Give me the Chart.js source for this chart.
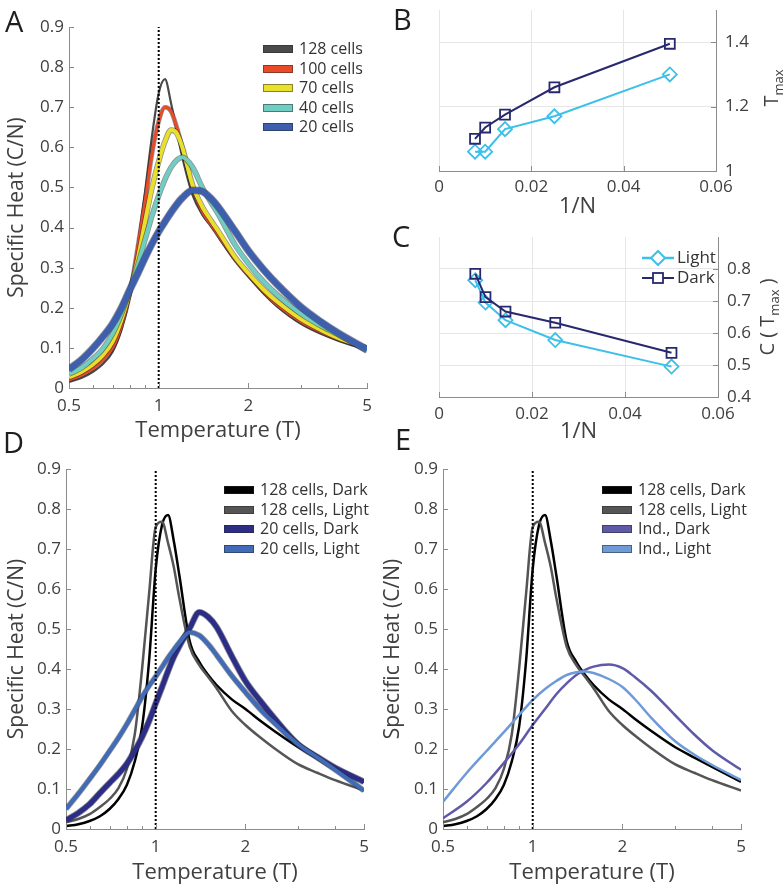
<!DOCTYPE html>
<html>
<head>
<meta charset="utf-8">
<title>Specific heat vs temperature</title>
<script src="https://cdn.jsdelivr.net/npm/chart.js@4.4.1/dist/chart.umd.min.js"></script>
<style>
  body { margin: 0; background: #fff; font-family: 'Open Sans', sans-serif; color: #404040; }
  #fig { position: relative; width: 784px; height: 888px; overflow: hidden; }
  .box { position: absolute; }
  .tag { position: absolute; font-size: 29px; line-height: 1; color: #1e1e1e; }
  .leg { position: absolute; font-size: 16px; line-height: 19.6px; color: #333; }
  .leg div { white-space: nowrap; }
  .leg span { display: inline-block; width: 30px; height: 8px; margin-right: 6px; vertical-align: 1px;
              border: 1px solid rgba(40,40,40,.5); box-sizing: border-box; }
  .ytitle { position: absolute; font-size: 20px; white-space: nowrap; color: #404040;
            transform: translate(-50%, -50%) rotate(-90deg); }
  .ytitle sub { font-size: 13px; }
  .sym { position: absolute; font-size: 17px; line-height: 20px; color: #333; }
  .sym div { white-space: nowrap; height: 20px; }
  .sym svg { vertical-align: -4px; margin-right: 2px; }
</style>
</head>
<body>
<div id="fig">
  <div class="box" style="left:0;top:0;width:380px;height:445px"><canvas id="chartA"></canvas></div>
  <div class="box" style="left:400px;top:0;width:384px;height:224px"><canvas id="chartB"></canvas></div>
  <div class="box" style="left:400px;top:222px;width:384px;height:227px"><canvas id="chartC"></canvas></div>
  <div class="box" style="left:0;top:440px;width:380px;height:447px"><canvas id="chartD"></canvas></div>
  <div class="box" style="left:374px;top:440px;width:410px;height:447px"><canvas id="chartE"></canvas></div>

  <div class="tag" style="left:5px;top:6px">A</div>
  <div class="tag" style="left:393px;top:4px">B</div>
  <div class="tag" style="left:392px;top:221px">C</div>
  <div class="tag" style="left:3px;top:427px">D</div>
  <div class="tag" style="left:395px;top:424px">E</div>

  <div class="ytitle" style="left:772px;top:88px">T<sub>max</sub></div>
  <div class="ytitle" style="left:768px;top:317px">C ( T<sub>max</sub> )</div>

  <div class="leg" id="legA" style="left:263px;top:39px"></div>
  <div class="leg" id="legD" style="left:224px;top:480px"></div>
  <div class="leg" id="legE" style="left:602px;top:480px"></div>

  <div class="sym" style="left:641px;top:247px">
    <div><svg width="34" height="18"><line x1="1" y1="9" x2="33" y2="9" stroke="#3cc0ea" stroke-width="2.5"/><path d="M17 2 L24 9 L17 16 L10 9 Z" fill="#fff" stroke="#3cc0ea" stroke-width="2"/></svg>Light</div>
    <div><svg width="34" height="18"><line x1="1" y1="9" x2="33" y2="9" stroke="#27296e" stroke-width="2"/><rect x="12" y="4" width="10" height="10" fill="#fff" stroke="#27296e" stroke-width="1.8"/></svg>Dark</div>
  </div>
</div>

<script>
// temperature grid used for the size curves (A) and the 128/20-cell curves (D, E)
const temps = [0.5, 0.55, 0.6, 0.65, 0.7, 0.75, 0.8, 0.85, 0.9, 0.95, 1.0, 1.05, 1.1, 1.15, 1.2, 1.3, 1.4, 1.5, 1.6, 1.8, 2.0, 2.25, 2.5, 3, 3.5, 4, 5];

// A - specific heat for different numbers of cells
const heat128 = [0.015, 0.025, 0.04, 0.06, 0.09, 0.145, 0.228, 0.355, 0.49, 0.63, 0.735, 0.77, 0.71, 0.64, 0.575, 0.48, 0.432, 0.403, 0.372, 0.318, 0.278, 0.235, 0.203, 0.16, 0.135, 0.118, 0.095];
const heat100 = [0.02, 0.032, 0.048, 0.07, 0.10, 0.155, 0.235, 0.35, 0.465, 0.585, 0.665, 0.70, 0.69, 0.65, 0.60, 0.50, 0.44, 0.407, 0.377, 0.322, 0.281, 0.24, 0.207, 0.165, 0.14, 0.122, 0.10];
const heat70 = [0.027, 0.04, 0.058, 0.082, 0.115, 0.17, 0.24, 0.32, 0.415, 0.50, 0.565, 0.615, 0.643, 0.635, 0.60, 0.505, 0.452, 0.417, 0.386, 0.327, 0.286, 0.245, 0.215, 0.172, 0.145, 0.125, 0.10];
const heat40 = [0.035, 0.05, 0.072, 0.098, 0.135, 0.185, 0.245, 0.305, 0.37, 0.43, 0.48, 0.52, 0.55, 0.568, 0.575, 0.55, 0.50, 0.462, 0.428, 0.358, 0.31, 0.265, 0.232, 0.185, 0.155, 0.133, 0.092];
const heat20 = [0.047, 0.07, 0.098, 0.128, 0.16, 0.20, 0.245, 0.285, 0.325, 0.36, 0.39, 0.415, 0.438, 0.458, 0.474, 0.493, 0.49, 0.472, 0.447, 0.392, 0.342, 0.295, 0.258, 0.202, 0.165, 0.137, 0.096];

// D - dark vs light, 128 and 20 cells
const dark128 = [0.007, 0.012, 0.02, 0.032, 0.05, 0.075, 0.11, 0.168, 0.255, 0.42, 0.65, 0.76, 0.785, 0.72, 0.635, 0.47, 0.418, 0.385, 0.36, 0.324, 0.30, 0.27, 0.245, 0.205, 0.178, 0.155, 0.118];
const light128 = [0.017, 0.025, 0.037, 0.055, 0.075, 0.102, 0.15, 0.235, 0.40, 0.588, 0.755, 0.768, 0.715, 0.655, 0.578, 0.456, 0.41, 0.38, 0.352, 0.295, 0.26, 0.228, 0.202, 0.162, 0.14, 0.122, 0.096];
const dark20 = [0.022, 0.04, 0.062, 0.09, 0.115, 0.138, 0.163, 0.195, 0.23, 0.27, 0.314, 0.355, 0.395, 0.43, 0.457, 0.502, 0.542, 0.53, 0.505, 0.432, 0.37, 0.319, 0.277, 0.212, 0.179, 0.153, 0.118];
const light20 = [0.05, 0.088, 0.125, 0.16, 0.195, 0.228, 0.262, 0.297, 0.33, 0.358, 0.381, 0.405, 0.428, 0.448, 0.466, 0.492, 0.484, 0.462, 0.435, 0.383, 0.342, 0.298, 0.265, 0.212, 0.178, 0.148, 0.096];

// E - independent cells
const tempsInd = [0.5, 0.6, 0.7, 0.8, 0.9, 1.0, 1.1, 1.2, 1.3, 1.4, 1.5, 1.6, 1.8, 2.0, 2.2, 2.5, 3, 3.5, 4, 5];
const indDark = [0.027, 0.068, 0.115, 0.165, 0.212, 0.26, 0.30, 0.337, 0.364, 0.385, 0.398, 0.406, 0.411, 0.402, 0.38, 0.345, 0.285, 0.235, 0.197, 0.148];
const indLight = [0.068, 0.14, 0.195, 0.242, 0.285, 0.3225, 0.35, 0.37, 0.385, 0.392, 0.394, 0.39, 0.375, 0.355, 0.325, 0.278, 0.22, 0.185, 0.16, 0.1225];

// critical temperature marker
const tcX = [1, 1];
const tcY = [0, 0.9];

// B, C - peak position and peak height vs 1/N
const invN = [0.0078, 0.01, 0.0143, 0.025, 0.05];
const tmaxLight = [1.06, 1.06, 1.13, 1.17, 1.30];
const tmaxDark = [1.10, 1.135, 1.175, 1.26, 1.395];
const cmaxLight = [0.765, 0.695, 0.64, 0.578, 0.495];
const cmaxDark = [0.785, 0.712, 0.667, 0.632, 0.538];

// tick values
const tempTicks = [0.5, 0.6, 0.7, 0.8, 0.9, 1, 2, 3, 4, 5];
const tempLabels = [0.5, 1, 2, 5];
const invTicks = [0, 0.02, 0.04, 0.06];
const tmaxTicks = [1, 1.2, 1.4];
const cmaxTicks = [0.4, 0.5, 0.6, 0.7, 0.8];

const FONT = "'Open Sans', sans-serif";
const TXT = '#404040';
const AXIS = '#8c8c8c';
const EDGE = 'rgba(35,35,45,0.5)';
const LIGHT = '#3cc0ea';
const DARK = '#27296e';

const inwardTicks = {
  id: 'inwardTicks',
  afterDraw(chart) {
    const {ctx, chartArea: a, scales} = chart;
    const x = scales.x, y = scales.y;
    ctx.save();
    ctx.strokeStyle = AXIS;
    ctx.lineWidth = 1;
    ctx.beginPath();
    x.ticks.forEach(t => {
      const p = Math.round(x.getPixelForValue(t.value)) + 0.5;
      const len = t.label === '' ? 3 : 5;
      ctx.moveTo(p, a.bottom);
      ctx.lineTo(p, a.bottom - len);
    });
    y.ticks.forEach(t => {
      const p = Math.round(y.getPixelForValue(t.value)) + 0.5;
      if (y.position === 'right') { ctx.moveTo(a.right, p); ctx.lineTo(a.right - 5, p); }
      else { ctx.moveTo(a.left, p); ctx.lineTo(a.left + 5, p); }
    });
    ctx.stroke();
    ctx.restore();
  }
};

const pts = (xs, ys) => xs.map((x, i) => ({ x: x, y: ys[i] }));

function line(xs, ys, color, width, order) {
  return { data: pts(xs, ys), borderColor: color, borderWidth: width, order: order,
           pointRadius: 0, fill: false, cubicInterpolationMode: 'monotone' };
}

function band(xs, ys, color, width, order) {
  return [line(xs, ys, color, width, order), line(xs, ys, EDGE, width + 1.6, order + 0.5)];
}

function tcLine() {
  return { data: pts(tcX, tcY), borderColor: '#000', borderWidth: 2, borderDash: [2, 2],
           pointRadius: 0, order: 0 };
}

function legend(id, items) {
  document.getElementById(id).innerHTML = items
    .map(it => '<div><span style="background:' + it[1] + '"></span>' + it[0] + '</div>').join('');
}

function heatChart(id, lay, datasets) {
  return new Chart(document.getElementById(id), {
    type: 'line',
    data: { datasets: datasets },
    options: {
      responsive: true,
      maintainAspectRatio: false,
      animation: false,
      layout: { padding: lay.pad },
      plugins: { legend: { display: false }, tooltip: { enabled: false } },
      scales: {
        x: {
          type: 'logarithmic', min: 0.5, max: 5,
          afterBuildTicks: s => { s.ticks = tempTicks.map(v => ({ value: v })); },
          afterFit: s => { s.height = lay.xh; s.paddingLeft = 0; s.paddingRight = 0; },
          ticks: { autoSkip: false, maxRotation: 0, padding: 8, color: TXT, font: { family: FONT, size: 17 },
                   callback: v => tempLabels.includes(v) ? String(v) : '' },
          grid: { drawOnChartArea: false, drawTicks: false },
          border: { color: AXIS },
          title: { display: true, text: 'Temperature (T)', color: TXT, font: { family: FONT, size: 22 },
                   padding: { top: 4, bottom: 1 } }
        },
        y: {
          min: 0, max: 0.9,
          afterFit: s => { s.width = lay.yw; s.paddingTop = 0; s.paddingBottom = 0; },
          ticks: { stepSize: 0.1, padding: 5, color: TXT, font: { family: FONT, size: 17 },
                   callback: v => v === 0 ? '0' : v.toFixed(1) },
          grid: { drawOnChartArea: false, drawTicks: false },
          border: { color: AXIS },
          title: { display: true, text: 'Specific Heat (C/N)', color: TXT,
                   font: { family: FONT, size: 21 }, padding: { top: lay.tp, bottom: 4 } }
        }
      }
    },
    plugins: [inwardTicks]
  });
}

function sizeChart(id, lay, light, dark, yMin, yMax, yTicks) {
  return new Chart(document.getElementById(id), {
    type: 'line',
    data: {
      datasets: [
        { data: pts(invN, dark), borderColor: DARK, borderWidth: 2, order: 1,
          pointStyle: 'rect', pointRadius: 7, pointBorderWidth: 1.8,
          pointBorderColor: DARK, pointBackgroundColor: 'rgba(255,255,255,0)' },
        { data: pts(invN, light), borderColor: LIGHT, borderWidth: 2, order: 2,
          pointStyle: 'rectRot', pointRadius: 7, pointBorderWidth: 1.8,
          pointBorderColor: LIGHT, pointBackgroundColor: 'rgba(255,255,255,0)' }
      ]
    },
    options: {
      responsive: true,
      maintainAspectRatio: false,
      animation: false,
      layout: { padding: lay.pad },
      plugins: { legend: { display: false }, tooltip: { enabled: false } },
      scales: {
        x: {
          type: 'linear', min: 0, max: 0.06,
          afterBuildTicks: s => { s.ticks = invTicks.map(v => ({ value: v })); },
          afterFit: s => { s.height = lay.xh; s.paddingLeft = 0; s.paddingRight = 0; },
          ticks: { autoSkip: false, maxRotation: 0, padding: lay.xp, color: TXT,
                   font: { family: FONT, size: 17 }, callback: v => String(v) },
          grid: { color: '#e6e6e6', drawTicks: false },
          border: { color: AXIS },
          title: { display: true, text: '1/N', color: TXT, font: { family: FONT, size: 22 } }
        },
        y: {
          position: 'right', min: yMin, max: yMax,
          afterBuildTicks: s => { s.ticks = yTicks.map(v => ({ value: v })); },
          afterFit: s => { s.width = lay.yw; s.paddingTop = 0; s.paddingBottom = 0; },
          ticks: { padding: 9, color: TXT, font: { family: FONT, size: 17 }, callback: v => String(v) },
          grid: { color: '#e6e6e6', drawTicks: false },
          border: { color: AXIS }
        }
      }
    },
    plugins: [inwardTicks]
  });
}

// A
heatChart('chartA', { pad: { top: 27, right: 13, left: 0, bottom: 0 }, yw: 69, xh: 57, tp: 4 }, [
  tcLine(),
  line(temps, heat128, '#4a4a4a', 2.2, 9),
  ...band(temps, heat100, '#ea4a26', 3, 7),
  ...band(temps, heat70, '#e8e02a', 4, 5),
  ...band(temps, heat40, '#6fcdc2', 4, 3),
  ...band(temps, heat20, '#3d5fae', 6, 1)
]);
legend('legA', [['128 cells', '#4a4a4a'], ['100 cells', '#ea4a26'], ['70 cells', '#e8e02a'],
                ['40 cells', '#6fcdc2'], ['20 cells', '#3d5fae']]);

// B
sizeChart('chartB', { pad: { top: 10, left: 39, right: 0, bottom: 0 }, yw: 68, xh: 53, xp: 6 },
          tmaxLight, tmaxDark, 1, 1.5, tmaxTicks);

// C
sizeChart('chartC', { pad: { top: 15, left: 39, right: 0, bottom: 0 }, yw: 66, xh: 52, xp: 7 },
          cmaxLight, cmaxDark, 0.4, 0.9, cmaxTicks);

// D
heatChart('chartD', { pad: { top: 29, right: 16, left: 0, bottom: 0 }, yw: 66, xh: 58, tp: 4 }, [
  tcLine(),
  ...band(temps, light20, '#3f6bb8', 4, 1),
  ...band(temps, dark20, '#2c2d86', 5, 3),
  line(temps, light128, '#555555', 2.5, 5),
  line(temps, dark128, '#000000', 2.5, 6)
]);
legend('legD', [['128 cells, Dark', '#000000'], ['128 cells, Light', '#555555'],
                ['20 cells, Dark', '#2c2d86'], ['20 cells, Light', '#3f6bb8']]);

// E
heatChart('chartE', { pad: { top: 29, right: 43, left: 0, bottom: 0 }, yw: 69, xh: 58, tp: 6 }, [
  tcLine(),
  line(tempsInd, indLight, '#6e9bd8', 2.5, 1),
  line(tempsInd, indDark, '#5f5aa8', 2.5, 2),
  line(temps, light128, '#555555', 2.5, 3),
  line(temps, dark128, '#000000', 2.5, 4)
]);
legend('legE', [['128 cells, Dark', '#000000'], ['128 cells, Light', '#555555'],
                ['Ind., Dark', '#5f5aa8'], ['Ind., Light', '#6e9bd8']]);
</script>
</body>
</html>
